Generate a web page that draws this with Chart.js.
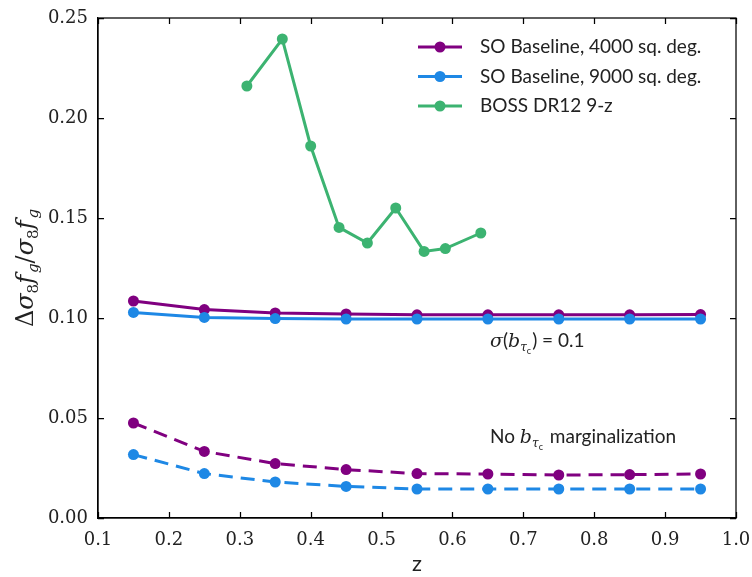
<!DOCTYPE html>
<html>
<head>
<meta charset="utf-8">
<script src="https://cdn.jsdelivr.net/npm/chart.js@4.4.1/dist/chart.umd.min.js"></script>
<style>
  html, body { margin: 0; padding: 0; background: #fff; }
  canvas { display: block; }
</style>
</head>
<body>
<canvas id="myChart" width="752" height="577"></canvas>
<script>
// data
var zSO = [0.15, 0.25, 0.35, 0.45, 0.55, 0.65, 0.75, 0.85, 0.95];
var so4000 = [0.1085, 0.1042, 0.1025, 0.1020, 0.1016, 0.1016, 0.1016, 0.1016, 0.1017];
var so9000 = [0.1028, 0.1003, 0.0997, 0.0995, 0.0995, 0.0995, 0.0995, 0.0995, 0.0995];
var zBoss = [0.31, 0.36, 0.40, 0.44, 0.48, 0.52, 0.56, 0.59, 0.64];
var boss = [0.216, 0.2395, 0.186, 0.1453, 0.1375, 0.155, 0.1333, 0.1347, 0.1425];
var noMarg4000 = [0.0475, 0.0333, 0.0272, 0.0242, 0.0222, 0.0220, 0.0215, 0.0217, 0.0220];
var noMarg9000 = [0.0317, 0.0222, 0.0180, 0.0158, 0.0145, 0.0145, 0.0145, 0.0145, 0.0145];
var xTicks = [0.1, 0.2, 0.3, 0.4, 0.5, 0.6, 0.7, 0.8, 0.9, 1.0];
var yTicks = [0.00, 0.05, 0.10, 0.15, 0.20, 0.25];

var PURPLE = '#800080', BLUE = '#1e88e5', GREEN = '#3cb371';
var SANS = 'Lato, "Liberation Sans", sans-serif';
var SERIF = '"DejaVu Serif", serif';

function pts(xs, ys) {
  return xs.map(function (x, i) { return { x: x, y: ys[i] }; });
}

function line(label, data, color, dashed, order) {
  return {
    label: label,
    data: data,
    borderColor: color,
    backgroundColor: color,
    borderWidth: 3,
    borderDash: dashed ? [14, 8] : [],
    pointRadius: 5.5,
    pointBorderWidth: 0,
    pointHoverRadius: 5.5,
    tension: 0,
    fill: false,
    order: order
  };
}

// draw a run of text pieces side by side: [text, font, dy, dx]
function rich(ctx, parts, x, y) {
  parts.forEach(function (p) {
    ctx.font = p[1];
    x += p[3] || 0;
    ctx.fillText(p[0], x, y + (p[2] || 0));
    x += ctx.measureText(p[0]).width;
  });
  return x;
}

function width(ctx, parts) {
  var w = 0;
  parts.forEach(function (p) { ctx.font = p[1]; w += ctx.measureText(p[0]).width + (p[3] || 0); });
  return w;
}

var extras = {
  id: 'extras',
  afterDraw: function (chart) {
    var ctx = chart.ctx, a = chart.chartArea;
    var xs = chart.scales.x, ys = chart.scales.y;
    ctx.save();

    // frame and inward ticks on all sides
    ctx.strokeStyle = '#000';
    ctx.lineWidth = 1.25;
    ctx.strokeRect(a.left, a.top, a.right - a.left, a.bottom - a.top);
    ctx.beginPath();
    xTicks.forEach(function (v) {
      var px = Math.round(xs.getPixelForValue(v)) + 0.5;
      ctx.moveTo(px, a.bottom); ctx.lineTo(px, a.bottom - 6);
      ctx.moveTo(px, a.top); ctx.lineTo(px, a.top + 6);
    });
    yTicks.forEach(function (v) {
      var py = Math.round(ys.getPixelForValue(v)) + 0.5;
      ctx.moveTo(a.left, py); ctx.lineTo(a.left + 6, py);
      ctx.moveTo(a.right, py); ctx.lineTo(a.right - 6, py);
    });
    ctx.stroke();

    // legend, first three series only
    ctx.textBaseline = 'middle';
    ctx.textAlign = 'left';
    chart.data.datasets.slice(0, 3).forEach(function (ds, i) {
      var y = 47 + i * 29.5;
      ctx.strokeStyle = ds.borderColor;
      ctx.lineWidth = 3;
      ctx.beginPath(); ctx.moveTo(418, y); ctx.lineTo(462, y); ctx.stroke();
      ctx.fillStyle = ds.borderColor;
      ctx.beginPath(); ctx.arc(440, y, 5.5, 0, Math.PI * 2); ctx.fill();
      ctx.fillStyle = '#222';
      ctx.font = '19px ' + SANS;
      ctx.fillText(ds.label, 480, y);
    });

    // annotations
    ctx.fillStyle = '#222';
    ctx.textBaseline = 'alphabetic';
    var it = 'italic 19px ' + SERIF, up = '19px ' + SANS;
    var sub = 'italic 12px ' + SERIF, sub2 = '9px ' + SANS;
    var ax = xs.getPixelForValue(0.653);
    var y1 = ys.getPixelForValue(0.0855);
    var x1 = rich(ctx, [['σ', it], ['(', up], ['b', it], ['τ', sub, 4]], ax, y1);
    x1 = rich(ctx, [['c', sub2, 7]], x1, y1);
    rich(ctx, [[') = 0.1', up]], x1 + 1, y1);

    var y2 = ys.getPixelForValue(0.0375);
    var x2 = rich(ctx, [['No ', up], ['b', it], ['τ', sub, 4]], ax, y2);
    x2 = rich(ctx, [['c', sub2, 7]], x2, y2);
    rich(ctx, [[' marginalization', up]], x2 + 2, y2);

    // y axis title, rotated
    var big = 'italic 24px ' + SERIF, bs = 'italic 15px ' + SERIF, bu = '24px ' + SERIF, bn = '15px ' + SERIF;
    var title = [['Δ', bu], ['σ', big], ['8', bn, 5], ['f', big], ['g', bs, 5, 2],
                 ['/', bu], ['σ', big], ['8', bn, 5], ['f', big], ['g', bs, 5, 2]];
    var tw = width(ctx, title);
    ctx.translate(33, (a.top + a.bottom) / 2 + 0);
    ctx.rotate(-Math.PI / 2);
    rich(ctx, title, -tw / 2, 0);

    ctx.restore();
  }
};

var ctx = document.getElementById('myChart');
var myChart = new Chart(ctx, {
  type: 'line',
  data: {
    datasets: [
      line('SO Baseline, 4000 sq. deg.', pts(zSO, so4000), PURPLE, false, 4),
      line('SO Baseline, 9000 sq. deg.', pts(zSO, so9000), BLUE, false, 3),
      line('BOSS DR12 9-z', pts(zBoss, boss), GREEN, false, 1),
      line('no marg 4000', pts(zSO, noMarg4000), PURPLE, true, 5),
      line('no marg 9000', pts(zSO, noMarg9000), BLUE, true, 2)
    ]
  },
  options: {
    responsive: false,
    animation: false,
    layout: { padding: { left: 0, right: 16, top: 18, bottom: 0 } },
    plugins: { legend: { display: false }, tooltip: { enabled: false } },
    scales: {
      x: {
        type: 'linear',
        min: 0.1, max: 1.0,
        afterFit: function (s) { s.height = 59; s.paddingLeft = 0; s.paddingRight = 0; },
        afterBuildTicks: function (s) { s.ticks = xTicks.map(function (v) { return { value: v }; }); },
        grid: { display: false, drawTicks: false },
        border: { display: true, color: '#000', width: 1.25 },
        ticks: {
          padding: 12,
          color: '#222',
          font: { family: SERIF, size: 18 },
          callback: function (v) { return v.toFixed(1); }
        },
        title: { display: true, text: 'z', color: '#222', font: { family: SANS, size: 22 }, padding: { top: 0, bottom: 0 } }
      },
      y: {
        min: 0, max: 0.25,
        afterFit: function (s) { s.width = 98; s.paddingTop = 0; s.paddingBottom = 0; },
        afterBuildTicks: function (s) { s.ticks = yTicks.map(function (v) { return { value: v }; }); },
        grid: { display: false, drawTicks: false },
        border: { display: true, color: '#000', width: 1.25 },
        ticks: {
          padding: 10,
          color: '#222',
          font: { family: SERIF, size: 18 },
          callback: function (v) { return v.toFixed(2); }
        }
      }
    }
  },
  plugins: [extras]
});
</script>
</body>
</html>
